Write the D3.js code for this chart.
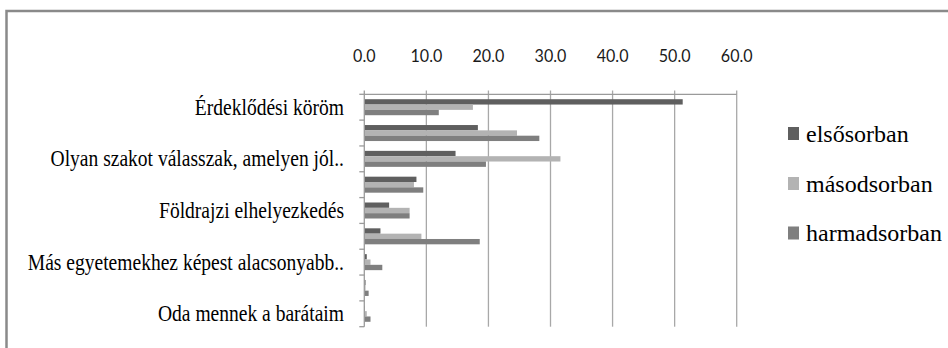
<!DOCTYPE html>
<html><head><meta charset="utf-8">
<script src="https://cdn.jsdelivr.net/npm/d3@7"></script>
<style>html,body{margin:0;padding:0;background:#fff;}svg{display:block;}</style>
</head><body>
<svg id="chart" width="948" height="348"></svg>
<script>
const categories = ["Érdeklődési köröm", "", "Olyan szakot válasszak, amelyen jól..", "", "Földrajzi elhelyezkedés", "", "Más egyetemekhez képest alacsonyabb..", "", "Oda mennek a barátaim"];
const seriesNames = ["elsősorban", "másodsorban", "harmadsorban"];
const elsosorban =   [51.3, 18.3, 14.7, 8.4, 4.0, 2.6, 0.4, 0.2, 0.1];
const masodsorban =  [17.5, 24.6, 31.6, 8.0, 7.3, 9.2, 1.0, 0.2, 0.4];
const harmadsorban = [12.0, 28.2, 19.6, 9.5, 7.3, 18.6, 2.9, 0.7, 1.0];
const tickValues = [0, 10, 20, 30, 40, 50, 60];
const colors = ["#5f5f5f", "#b3b3b3", "#7f7f7f"];

const series = [elsosorban, masodsorban, harmadsorban];
const svg = d3.select("#chart");

// frame
svg.append("rect").attr("x", 6.5).attr("y", 11).attr("width", 960).attr("height", 400)
  .attr("fill", "none").attr("stroke", "#8a8a8a").attr("stroke-width", 2.5);

const x = d3.scaleLinear().domain([0, 60]).range([364.3, 736.7]);
const y = d3.scaleBand().domain(d3.range(categories.length)).range([94.3, 326.7]).padding(0);
const inner = d3.scaleBand().domain(d3.range(3)).range([0, 16]);
const groupOffset = (y.bandwidth() - 16) / 2;

// gridlines
svg.append("g").selectAll("line").data(tickValues.slice(1)).join("line")
  .attr("x1", d => x(d)).attr("x2", d => x(d))
  .attr("y1", 90.5).attr("y2", 326.7)
  .attr("stroke", "#a8a8a8").attr("stroke-width", 1.3);

// top axis line
svg.append("line").attr("x1", x(0)).attr("x2", x(60)).attr("y1", 94.3).attr("y2", 94.3)
  .attr("stroke", "#9a9a9a").attr("stroke-width", 1.3);

// tick labels
svg.append("g").selectAll("text").data(tickValues).join("text")
  .attr("transform", d => `translate(${x(d)},62.3) scale(0.92,1)`)
  .attr("text-anchor", "middle")
  .attr("font-family", "Lato, 'Liberation Sans', sans-serif").attr("font-size", 17.5)
  .attr("fill", "#1a1a1a")
  .text(d => d3.format(".1f")(d));

// bars
const groups = svg.append("g").selectAll("g").data(categories.map((c, i) => i)).join("g")
  .attr("transform", i => `translate(0,${y(i) + groupOffset})`);
groups.selectAll("rect").data(i => series.map((s, k) => ({k, v: s[i]}))).join("rect")
  .attr("x", x(0)).attr("y", d => inner(d.k))
  .attr("width", d => x(d.v) - x(0)).attr("height", inner.bandwidth())
  .attr("fill", d => colors[d.k]);

// left axis
svg.append("line").attr("x1", x(0)).attr("x2", x(0)).attr("y1", 90.5).attr("y2", 326.7)
  .attr("stroke", "#9a9a9a").attr("stroke-width", 1.3);
const bounds = d3.range(categories.length + 1).map(i => 94.3 + i * y.step());
svg.append("g").selectAll("line").data(bounds).join("line")
  .attr("x1", x(0) - 5).attr("x2", x(0)).attr("y1", d => d).attr("y2", d => d)
  .attr("stroke", "#9a9a9a").attr("stroke-width", 1.3);

// category labels
svg.append("g").selectAll("text").data(categories.map((c, i) => ({c, i})).filter(d => d.c !== "")).join("text")
  .attr("transform", d => `translate(344,${y(d.i) + y.bandwidth() / 2 + 7.5}) scale(0.85,1)`)
  .attr("text-anchor", "end")
  .attr("font-family", "'Liberation Serif', serif").attr("font-size", 23)
  .attr("fill", "#000")
  .text(d => d.c);

// legend
const legendY = [133.5, 183.5, 233];
const lg = svg.append("g").selectAll("g").data(seriesNames).join("g")
  .attr("transform", (d, i) => `translate(788,${legendY[i]})`);
lg.append("rect").attr("x", 0).attr("y", -6.5).attr("width", 11).attr("height", 13)
  .attr("fill", (d, i) => colors[i]);
lg.append("text").attr("x", 18).attr("y", 8)
  .attr("font-family", "'Liberation Serif', serif").attr("font-size", 24)
  .attr("fill", "#000").text(d => d);
</script>
</body></html>
